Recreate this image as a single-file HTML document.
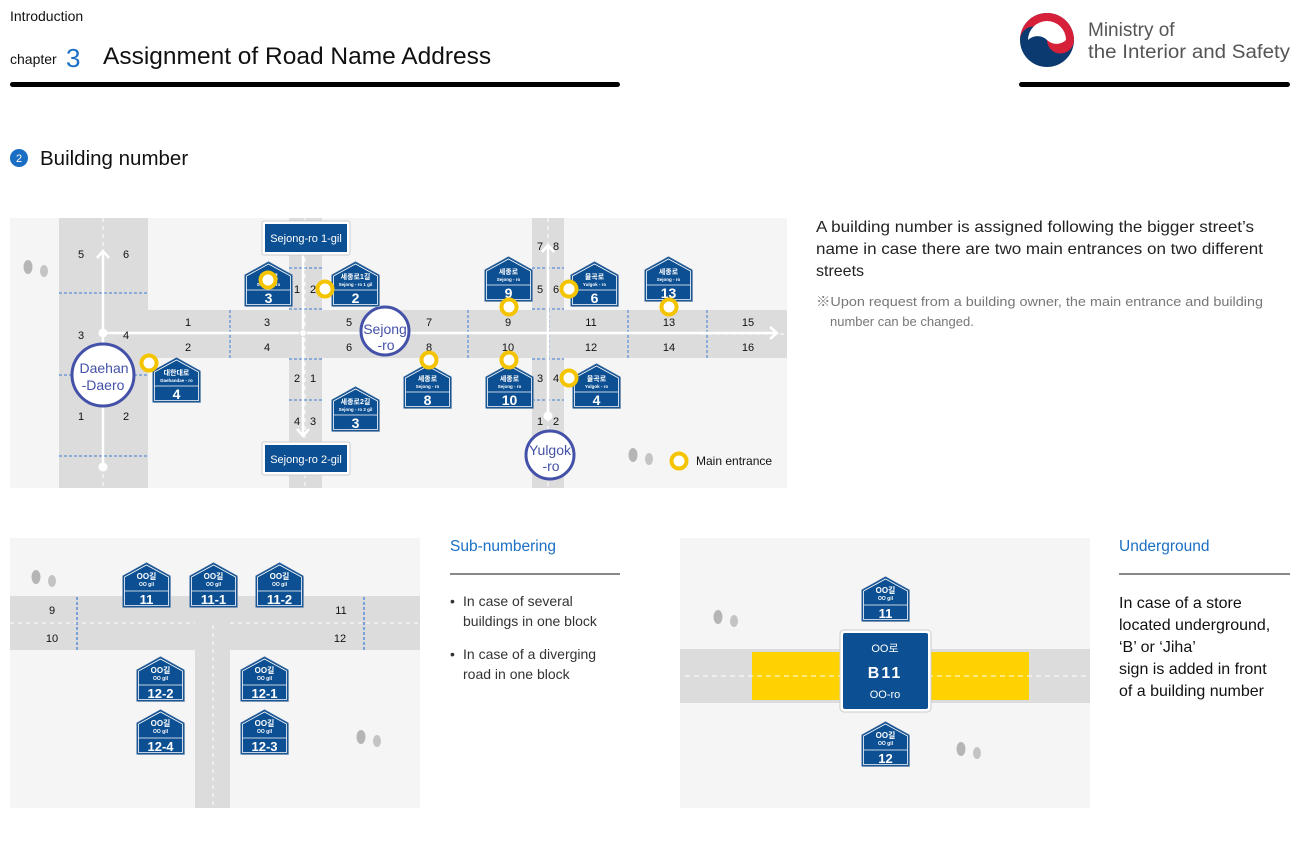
<!DOCTYPE html>
<html><head><meta charset="utf-8"><style>
html,body{margin:0;padding:0;background:#fff;}
svg{display:block;font-family:"Liberation Sans","Noto Sans CJK KR",sans-serif;}
</style></head><body>
<svg width="1300" height="850" viewBox="0 0 1300 850" xmlns="http://www.w3.org/2000/svg">
<defs>
<g id="house">
<polygon points="1,45 48,45 48,14 24.5,1.5 1,14" fill="#c8ccd4"/>
<polygon points="0,44 47,44 47,13 23.5,0 0,13" fill="#0c4f92" stroke="#2c5f98" stroke-width="1"/>
<polygon points="1.5,42.5 45.5,42.5 45.5,14 23.5,2 1.5,14" fill="none" stroke="#fff" stroke-width="0.8"/>
<line x1="1.5" y1="28" x2="45.5" y2="28" stroke="#fff" stroke-width="0.8"/>
</g>
<g id="tree">
<ellipse cx="0" cy="0" rx="4.5" ry="7" fill="#b5b5b5"/>
<ellipse cx="16" cy="4" rx="4" ry="6" fill="#c4c4c4"/>
</g>
</defs>

<!-- Header -->
<text x="10" y="21" font-size="14" fill="#111">Introduction</text>
<text x="10" y="64" font-size="14" fill="#111">chapter</text>
<text x="66" y="67" font-size="26" fill="#1a6fc4">3</text>
<text x="103" y="64" font-size="24.5" fill="#111">Assignment of Road Name Address</text>
<rect x="10" y="82" width="610" height="5" rx="2.5" fill="#000"/>
<rect x="1019" y="82" width="271" height="5" rx="2.5" fill="#000"/>
<circle cx="1047" cy="40" r="27" fill="#0a3a70"/>
<path d="M1020,40 A27,27 0 0 1 1074,40 A13.5,13.5 0 0 1 1047,40 A13.5,13.5 0 0 0 1020,40 Z" fill="#d6203a"/>
<path d="M1028,40 A13.5,13.5 0 0 1 1047,40 A13.5,13.5 0 0 0 1066,40 A19,19 0 0 0 1028,40Z" fill="#fff"/>
<text x="1088" y="36" font-size="19" fill="#555">Ministry of</text>
<text x="1088" y="58" font-size="19" fill="#555" textLength="202" lengthAdjust="spacingAndGlyphs">the Interior and Safety</text>

<circle cx="19" cy="158" r="9" fill="#1a6fc4"/>
<text x="19" y="162" font-size="11" fill="#fff" text-anchor="middle">2</text>
<text x="40" y="165" font-size="20.5" fill="#111">Building number</text>

<!-- Main map -->
<rect x="10" y="218" width="777" height="270" fill="#f5f5f5"/>
<rect x="59" y="218" width="89" height="270" fill="#dcdcdc"/>
<rect x="148" y="310" width="639" height="48" fill="#dcdcdc"/>
<rect x="289" y="218" width="33" height="270" fill="#dcdcdc"/>
<rect x="532" y="218" width="32" height="270" fill="#dcdcdc"/>
<g stroke="#fff" stroke-width="1" stroke-dasharray="4,4">
<line x1="103" y1="218" x2="103" y2="488"/>
<line x1="305" y1="218" x2="305" y2="488"/>
<line x1="548" y1="218" x2="548" y2="488"/>
<line x1="700" y1="334" x2="787" y2="334"/>
</g>
<g stroke="#3a7bd5" stroke-width="1" stroke-dasharray="3,2">
<line x1="59" y1="293" x2="148" y2="293"/>
<line x1="59" y1="375" x2="148" y2="375"/>
<line x1="59" y1="456" x2="148" y2="456"/>
<line x1="230" y1="310" x2="230" y2="358"/>
<line x1="303" y1="310" x2="303" y2="358"/>
<line x1="468" y1="310" x2="468" y2="358"/>
<line x1="549" y1="310" x2="549" y2="358"/>
<line x1="628" y1="310" x2="628" y2="358"/>
<line x1="707" y1="310" x2="707" y2="358"/>
<line x1="289" y1="268" x2="322" y2="268"/>
<line x1="289" y1="309" x2="322" y2="309"/>
<line x1="289" y1="359" x2="322" y2="359"/>
<line x1="289" y1="400" x2="322" y2="400"/>
<line x1="532" y1="268" x2="564" y2="268"/>
<line x1="532" y1="309" x2="564" y2="309"/>
<line x1="532" y1="359" x2="564" y2="359"/>
<line x1="532" y1="400" x2="564" y2="400"/>
</g>
<g stroke="#fff" stroke-width="2.5" fill="none">
<line x1="103" y1="252" x2="103" y2="467"/>
<polyline points="97,258 103,251 109,258"/>
<line x1="103" y1="333" x2="776" y2="333"/>
<polyline points="770,327 777,333 770,339"/>
<line x1="303" y1="254" x2="303" y2="435"/>
<polyline points="297,429 303,436 309,429"/>
<line x1="548" y1="246" x2="548" y2="416"/>
<polyline points="542,252 548,245 554,252"/>
</g>
<circle cx="103" cy="333" r="4.5" fill="#fff"/>
<circle cx="103" cy="467" r="4.5" fill="#fff"/>
<circle cx="303" cy="333" r="3.5" fill="#fff" stroke="#ddd"/>
<circle cx="548" cy="416" r="4.5" fill="#fff"/>

<g font-size="11" fill="#111" text-anchor="middle">
<text x="81" y="258">5</text><text x="126" y="258">6</text>
<text x="81" y="339">3</text><text x="126" y="339">4</text>
<text x="81" y="420">1</text><text x="126" y="420">2</text>
<text x="188" y="326">1</text><text x="267" y="326">3</text><text x="349" y="326">5</text><text x="429" y="326">7</text><text x="508" y="326">9</text><text x="591" y="326">11</text><text x="669" y="326">13</text><text x="748" y="326">15</text>
<text x="188" y="351">2</text><text x="267" y="351">4</text><text x="349" y="351">6</text><text x="429" y="351">8</text><text x="508" y="351">10</text><text x="591" y="351">12</text><text x="669" y="351">14</text><text x="748" y="351">16</text>
<text x="297" y="293">1</text><text x="313" y="293">2</text>
<text x="297" y="382">2</text><text x="313" y="382">1</text>
<text x="297" y="425">4</text><text x="313" y="425">3</text>
<text x="540" y="250">7</text><text x="556" y="250">8</text>
<text x="540" y="293">5</text><text x="556" y="293">6</text>
<text x="540" y="382">3</text><text x="556" y="382">4</text>
<text x="540" y="425">1</text><text x="556" y="425">2</text>
</g>

<g fill="#fff" stroke="#4451a8" stroke-width="3">
<circle cx="103" cy="375" r="31"/>
<circle cx="385" cy="331" r="24"/>
<circle cx="550" cy="455" r="24"/>
</g>
<g fill="#4451a8" font-size="14" text-anchor="middle">
<text x="104" y="373">Daehan</text><text x="103" y="390">-Daero</text>
<text x="385" y="334">Sejong</text><text x="386" y="350">-ro</text>
<text x="550" y="455">Yulgok</text><text x="551" y="471">-ro</text>
</g>

<!-- street name boxes -->
<rect x="262" y="221" width="88" height="34" rx="2" fill="#fff" stroke="#ccc"/>
<rect x="265" y="224" width="82" height="28" fill="#0c4f92"/>
<text x="306" y="242" font-size="11" fill="#fff" text-anchor="middle">Sejong-ro 1-gil</text>
<rect x="262" y="442" width="88" height="33" rx="2" fill="#fff" stroke="#ccc"/>
<rect x="265" y="445" width="82" height="27" fill="#0c4f92"/>
<text x="306" y="463" font-size="11" fill="#fff" text-anchor="middle">Sejong-ro 2-gil</text>

<!-- house signs main -->
<g fill="#fff" text-anchor="middle" font-weight="bold">
<g transform="translate(245,262)"><use href="#house"/><text x="23.5" y="17" font-size="7">세종로</text><text x="23.5" y="24" font-size="4.5">Sejong - ro</text><text x="23.5" y="41" font-size="14">3</text></g>
<g transform="translate(332,262)"><use href="#house"/><text x="23.5" y="17" font-size="7">세종로1길</text><text x="23.5" y="24" font-size="4.5">Sejong - ro 1 gil</text><text x="23.5" y="41" font-size="14">2</text></g>
<g transform="translate(153,358)"><use href="#house"/><text x="23.5" y="17" font-size="7">대한대로</text><text x="23.5" y="24" font-size="4.5">Daehandae - ro</text><text x="23.5" y="41" font-size="14">4</text></g>
<g transform="translate(332,387)"><use href="#house"/><text x="23.5" y="17" font-size="7">세종로2길</text><text x="23.5" y="24" font-size="4.5">Sejong - ro 2 gil</text><text x="23.5" y="41" font-size="14">3</text></g>
<g transform="translate(485,257)"><use href="#house"/><text x="23.5" y="17" font-size="7">세종로</text><text x="23.5" y="24" font-size="4.5">Sejong - ro</text><text x="23.5" y="41" font-size="14">9</text></g>
<g transform="translate(571,262)"><use href="#house"/><text x="23.5" y="17" font-size="7">율곡로</text><text x="23.5" y="24" font-size="4.5">Yulgok - ro</text><text x="23.5" y="41" font-size="14">6</text></g>
<g transform="translate(645,257)"><use href="#house"/><text x="23.5" y="17" font-size="7">세종로</text><text x="23.5" y="24" font-size="4.5">Sejong - ro</text><text x="23.5" y="41" font-size="14">13</text></g>
<g transform="translate(404,364)"><use href="#house"/><text x="23.5" y="17" font-size="7">세종로</text><text x="23.5" y="24" font-size="4.5">Sejong - ro</text><text x="23.5" y="41" font-size="14">8</text></g>
<g transform="translate(486,364)"><use href="#house"/><text x="23.5" y="17" font-size="7">세종로</text><text x="23.5" y="24" font-size="4.5">Sejong - ro</text><text x="23.5" y="41" font-size="14">10</text></g>
<g transform="translate(573,364)"><use href="#house"/><text x="23.5" y="17" font-size="7">율곡로</text><text x="23.5" y="24" font-size="4.5">Yulgok - ro</text><text x="23.5" y="41" font-size="14">4</text></g>
</g>

<g fill="#fff" stroke="#f5c400" stroke-width="4">
<circle cx="268" cy="280" r="7.5"/><circle cx="325" cy="289" r="7.5"/><circle cx="149" cy="363" r="7.5"/>
<circle cx="509" cy="307" r="7.5"/><circle cx="569" cy="289" r="7.5"/><circle cx="669" cy="307" r="7.5"/>
<circle cx="429" cy="360" r="7.5"/><circle cx="509" cy="360" r="7.5"/><circle cx="569" cy="378" r="7.5"/>
<circle cx="679" cy="461" r="7.5"/>
</g>
<text x="696" y="465" font-size="12" fill="#111">Main entrance</text>
<use href="#tree" x="28" y="267"/>
<use href="#tree" x="633" y="455"/>

<!-- right text -->
<g font-size="16" fill="#222">
<text x="816" y="232" textLength="438" lengthAdjust="spacingAndGlyphs">A building number is assigned following the bigger street’s</text>
<text x="816" y="254" textLength="447" lengthAdjust="spacingAndGlyphs">name in case there are two main entrances on two different</text>
<text x="816" y="276">streets</text>
</g>
<g font-size="13" fill="#777">
<text x="816" y="306" textLength="447" lengthAdjust="spacingAndGlyphs">※Upon request from a building owner, the main entrance and building</text>
<text x="830" y="326">number can be changed.</text>
</g>

<!-- Bottom left panel -->
<rect x="10" y="538" width="410" height="270" fill="#f5f5f5"/>
<rect x="10" y="596" width="410" height="54" fill="#dcdcdc"/>
<rect x="195" y="650" width="35" height="158" fill="#dcdcdc"/>
<g stroke="#fff" stroke-width="1" stroke-dasharray="4,4">
<line x1="10" y1="623" x2="195" y2="623"/>
<line x1="230" y1="623" x2="420" y2="623"/>
<line x1="213" y1="625" x2="213" y2="808"/>
</g>
<g stroke="#3a7bd5" stroke-width="1.2" stroke-dasharray="3,2">
<line x1="77" y1="597" x2="77" y2="650"/>
<line x1="364" y1="597" x2="364" y2="650"/>
</g>
<g font-size="11" fill="#111" text-anchor="middle">
<text x="52" y="614">9</text><text x="52" y="642">10</text><text x="341" y="614">11</text><text x="340" y="642">12</text>
</g>
<g fill="#fff" text-anchor="middle" font-weight="bold">
<g transform="translate(123,563)"><use href="#house"/><text x="23.5" y="16" font-size="8">OO길</text><text x="23.5" y="23" font-size="5">OO gil</text><text x="23.5" y="41" font-size="13">11</text></g>
<g transform="translate(190,563)"><use href="#house"/><text x="23.5" y="16" font-size="8">OO길</text><text x="23.5" y="23" font-size="5">OO gil</text><text x="23.5" y="41" font-size="13">11-1</text></g>
<g transform="translate(256,563)"><use href="#house"/><text x="23.5" y="16" font-size="8">OO길</text><text x="23.5" y="23" font-size="5">OO gil</text><text x="23.5" y="41" font-size="13">11-2</text></g>
<g transform="translate(137,657)"><use href="#house"/><text x="23.5" y="16" font-size="8">OO길</text><text x="23.5" y="23" font-size="5">OO gil</text><text x="23.5" y="41" font-size="13">12-2</text></g>
<g transform="translate(241,657)"><use href="#house"/><text x="23.5" y="16" font-size="8">OO길</text><text x="23.5" y="23" font-size="5">OO gil</text><text x="23.5" y="41" font-size="13">12-1</text></g>
<g transform="translate(137,710)"><use href="#house"/><text x="23.5" y="16" font-size="8">OO길</text><text x="23.5" y="23" font-size="5">OO gil</text><text x="23.5" y="41" font-size="13">12-4</text></g>
<g transform="translate(241,710)"><use href="#house"/><text x="23.5" y="16" font-size="8">OO길</text><text x="23.5" y="23" font-size="5">OO gil</text><text x="23.5" y="41" font-size="13">12-3</text></g>
</g>
<use href="#tree" x="36" y="577"/>
<use href="#tree" x="361" y="737"/>

<text x="450" y="551" font-size="15.5" fill="#1a6fc4">Sub-numbering</text>
<line x1="450" y1="574" x2="620" y2="574" stroke="#111" stroke-width="1"/>
<g font-size="14" fill="#333">
<text x="450" y="606">•</text><text x="463" y="606">In case of several</text>
<text x="463" y="626">buildings in one block</text>
<text x="450" y="659">•</text><text x="463" y="659">In case of a diverging</text>
<text x="463" y="679">road in one block</text>
</g>

<!-- Bottom middle panel -->
<rect x="680" y="538" width="410" height="270" fill="#f5f5f5"/>
<rect x="680" y="649" width="410" height="54" fill="#dcdcdc"/>
<rect x="752" y="652" width="277" height="48" fill="#ffd200"/>
<line x1="685" y1="676" x2="1090" y2="676" stroke="#fff" stroke-width="1" stroke-dasharray="5,4"/>
<rect x="840" y="630" width="91" height="82" rx="4" fill="#fff" stroke="#ccc"/>
<rect x="843" y="633" width="85" height="76" rx="2" fill="#0c4f92"/>
<g fill="#fff" text-anchor="middle" font-weight="bold">
<text x="885" y="652" font-size="11" font-weight="normal">OO로</text>
<text x="885" y="678" font-size="16" letter-spacing="2">B11</text>
<text x="885" y="698" font-size="11" font-weight="normal">OO-ro</text>
<g transform="translate(862,577)"><use href="#house"/><text x="23.5" y="16" font-size="8">OO길</text><text x="23.5" y="23" font-size="5">OO gil</text><text x="23.5" y="41" font-size="13">11</text></g>
<g transform="translate(862,722)"><use href="#house"/><text x="23.5" y="16" font-size="8">OO길</text><text x="23.5" y="23" font-size="5">OO gil</text><text x="23.5" y="41" font-size="13">12</text></g>
</g>
<use href="#tree" x="718" y="617"/>
<use href="#tree" x="961" y="749"/>

<text x="1119" y="551" font-size="15.5" fill="#1a6fc4">Underground</text>
<line x1="1119" y1="574" x2="1290" y2="574" stroke="#111" stroke-width="1"/>
<g font-size="16" fill="#111">
<text x="1119" y="608">In case of a store</text>
<text x="1119" y="630">located underground,</text>
<text x="1119" y="652">‘B’ or ‘Jiha’</text>
<text x="1119" y="674">sign is  added in front</text>
<text x="1119" y="696">of a building number</text>
</g>
</svg>
</body></html>
